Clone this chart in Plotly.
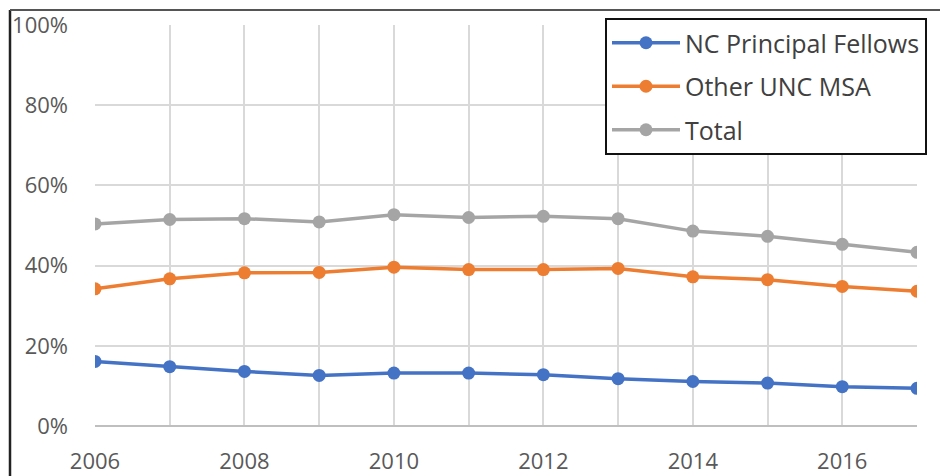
import plotly.graph_objects as go

years = list(range(2006, 2018))
nc_fellows = [16.1, 14.8, 13.6, 12.6, 13.2, 13.2, 12.8, 11.8, 11.1, 10.7, 9.8, 9.4]
other_unc = [34.2, 36.7, 38.2, 38.3, 39.6, 39.0, 39.0, 39.3, 37.2, 36.5, 34.8, 33.6]
total = [50.4, 51.5, 51.7, 50.9, 52.7, 52.0, 52.3, 51.7, 48.6, 47.3, 45.3, 43.3]

series = [
    ("NC Principal Fellows", nc_fellows, "#4472C4"),
    ("Other UNC MSA", other_unc, "#ED7D31"),
    ("Total", total, "#A5A5A5"),
]

# page offset of the figure (browser body margin)
OFF = 8
W, H = 948 - OFF, 476 - OFF
# plot area in page pixels: x 95..917, y 25..426
L, R, T, B = 95 - OFF, 948 - 917, 25 - OFF, 476 - 426
PW, PH = W - L - R, H - B - T

def px_x(x):
    return (x - OFF - L) / PW

def px_y(y):
    return (H - B - (y - OFF)) / PH

fig = go.Figure()
for i, (name, vals, col) in enumerate(series):
    fig.add_trace(go.Scatter(
        x=years, y=vals, name=name, mode="lines+markers",
        line=dict(color=col, width=3.5),
        marker=dict(color=col, size=13),
        legendgroup=f"g{i}",
    ))

fig.update_layout(
    width=W, height=H,
    margin=dict(l=L, r=R, t=T, b=B, autoexpand=False),
    paper_bgcolor="white", plot_bgcolor="white",
    font=dict(family="Open Sans, sans-serif", size=22, color="#595959"),
    showlegend=True,
    legend=dict(
        x=px_x(605), y=px_y(18),
        xanchor="left", yanchor="top",
        bgcolor="white", bordercolor="#111111", borderwidth=2,
        font=dict(family="Open Sans, sans-serif", size=25, color="#404040"),
        tracegroupgap=8, itemwidth=68,
    ),
    xaxis=dict(
        range=[2006, 2017], tickmode="array",
        tickvals=[2006, 2008, 2010, 2012, 2014, 2016],
        ticktext=["2006", "2008", "2010", "2012", "2014", "2016"],
        showgrid=True, gridcolor="#D9D9D9", gridwidth=1.5,
        minor=dict(dtick=1, showgrid=True, gridcolor="#D9D9D9", gridwidth=1.5),
        zeroline=False, showline=False, ticks="",
        ticklabelstandoff=20,
        fixedrange=True,
    ),
    yaxis=dict(
        range=[0, 100], tickmode="array",
        tickvals=[0, 20, 40, 60, 80, 100],
        ticktext=["0%", "20%", "40%", "60%", "80%", "100%"],
        showgrid=True, gridcolor="#D9D9D9", gridwidth=1.5,
        zeroline=False, showline=False, ticks="",
        ticklabelstandoff=26,
        fixedrange=True,
    ),
    shapes=[
        dict(type="line", xref="paper", yref="paper",
             x0=0, x1=1, y0=0, y1=0, line=dict(color="#BFBFBF", width=2)),
        dict(type="line", xref="paper", yref="paper", layer="above",
             x0=px_x(10), x1=px_x(10), y0=px_y(476), y1=px_y(10),
             line=dict(color="#222222", width=2.5)),
        dict(type="line", xref="paper", yref="paper", layer="above",
             x0=px_x(10), x1=px_x(948), y0=px_y(10), y1=px_y(10),
             line=dict(color="#555555", width=2)),
    ],
)

fig.write_html("out.html")
